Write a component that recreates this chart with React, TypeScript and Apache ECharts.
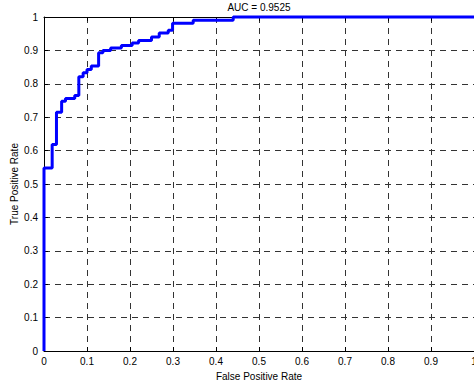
import React, { useEffect, useRef } from "react";
import * as echarts from "echarts";

const fpr = [0, 0, 0.019, 0.029, 0.041, 0.05, 0.0715, 0.081, 0.091, 0.1, 0.11, 0.127, 0.137, 0.155, 0.18, 0.205, 0.22, 0.25, 0.268, 0.289, 0.299, 0.347, 0.44, 1];
const tpr = [0, 0.548, 0.618, 0.715, 0.748, 0.756, 0.765, 0.821, 0.833, 0.843, 0.853, 0.893, 0.9, 0.907, 0.915, 0.922, 0.93, 0.94, 0.952, 0.96, 0.981, 0.99, 1.0, 1.0];
const titleText = "AUC = 0.9525";
const xName = "False Positive Rate";
const yName = "True Positive Rate";

const FONT = "'Liberation Sans', Arial, Helvetica, sans-serif";

export default function App() {
  const ref = useRef<HTMLDivElement>(null);
  useEffect(() => {
    if (!ref.current) return;
    const chart = echarts.init(ref.current, null, { renderer: "svg" });
    const gridLine = { show: true, lineStyle: { color: "#333", type: [6, 5] as any, width: 1 } };
    chart.setOption({
      animation: false,
      backgroundColor: "#fff",
      textStyle: { fontFamily: FONT },
      title: {
        text: titleText,
        left: 259,
        textAlign: "center",
        top: 2,
        padding: 0,
        textStyle: { fontSize: 10, fontWeight: "normal", color: "#000", fontFamily: FONT },
      },
      grid: { left: 44, right: 0, top: 17, bottom: 34, containLabel: false, outerBoundsMode: "none" },
      xAxis: [
        {
          type: "value",
          min: 0,
          max: 1,
          interval: 0.1,
          name: xName,
          nameLocation: "middle",
          nameGap: 20,
          nameMoveOverlap: false,
          nameTextStyle: { fontSize: 10, color: "#000", fontFamily: FONT },
          axisLine: { show: true, onZero: false, lineStyle: { color: "#000", width: 1 } },
          axisTick: { show: true, inside: true, length: 4, lineStyle: { color: "#000" } },
          axisLabel: { fontSize: 10, color: "#000", margin: 5, fontFamily: FONT, showMaxLabel: true },
          splitLine: gridLine,
        },
        {
          type: "value",
          position: "top",
          min: 0,
          max: 1,
          interval: 0.1,
          axisLine: { show: true, onZero: false, lineStyle: { color: "#000", width: 1 } },
          axisTick: { show: true, inside: true, length: 4, lineStyle: { color: "#000" } },
          axisLabel: { show: false },
          splitLine: { show: false },
        },
      ],
      yAxis: {
        type: "value",
        min: 0,
        max: 1,
        interval: 0.1,
        name: yName,
        nameLocation: "middle",
        nameRotate: 90,
        nameGap: 25,
        nameMoveOverlap: false,
        nameTextStyle: { fontSize: 10, color: "#000", fontFamily: FONT },
        axisLine: { show: true, onZero: false, lineStyle: { color: "#000", width: 1 } },
        axisTick: { show: true, inside: true, length: 4, lineStyle: { color: "#000" } },
        axisLabel: { fontSize: 10, color: "#000", margin: 6, fontFamily: FONT },
        splitLine: gridLine,
      },
      series: [
        {
          type: "line",
          data: fpr.map((x, i) => [x, tpr[i]]),
          step: "end",
          showSymbol: false,
          symbol: "none",
          clip: false,
          lineStyle: { color: "#0000ff", width: 3 },
          z: 5,
        },
      ],
    });
    return () => chart.dispose();
  }, []);
  return (
    <div
      ref={ref}
      style={{ position: "fixed", left: 0, top: 0, width: 474, height: 385, background: "#fff" }}
    />
  );
}
